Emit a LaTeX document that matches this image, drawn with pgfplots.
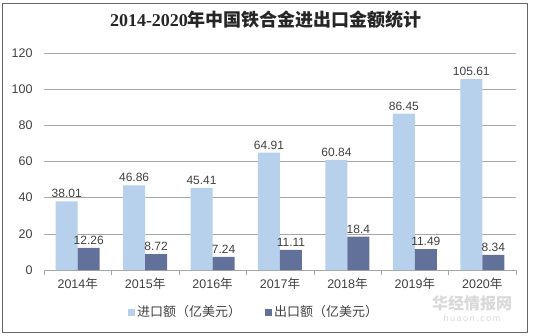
\documentclass[border=0pt]{standalone}
\usepackage{pgfplots}
\pgfplotsset{compat=1.18}
\usepackage{fontspec}
\setmainfont{Liberation Sans}
\newfontfamily\cjk{Noto Sans CJK SC}
\newfontfamily\serifnum{Liberation Serif}
\definecolor{impc}{HTML}{B7D0EC}
\definecolor{expc}{HTML}{627199}
\definecolor{txt}{HTML}{404040}
\definecolor{gridc}{HTML}{A6A6A6}
\begin{document}
\begin{tikzpicture}
\begin{axis}[
  at={(0,0)}, anchor=south west,
  scale only axis, width=472pt, height=217pt,
  ybar=0pt, bar width=22pt,
  xmin=-0.5, xmax=6.5, ymin=0, ymax=120,
  ytick={0,20,...,120},
  xtick={0,...,6},
  xticklabels={2014{\cjk 年},2015{\cjk 年},2016{\cjk 年},2017{\cjk 年},2018{\cjk 年},2019{\cjk 年},2020{\cjk 年}},
  minor xtick={-0.5,0.5,...,6.5},
  tick align=outside,
  major tick length=0pt, minor tick length=5pt,
  minor tick style={gridc},
  axis x line*=bottom, axis y line*=left,
  x axis line style={gridc,-},
  y axis line style={draw=none},
  ymajorgrids, grid style={gridc, line width=0.6pt},
  ticklabel style={font=\fontsize{12.5}{14}\selectfont, text=txt},
  yticklabel style={xshift=-8pt},
  xticklabel style={yshift=-4pt},
  /pgf/number format/assume math mode=true,
  nodes near coords,
  every node near coord/.append style={font=\fontsize{12}{14}\selectfont, text=txt, /pgf/number format/assume math mode=true, inner sep=3pt},
  legend style={at={(0.445,-0.194)}, anchor=center, draw=none, fill=none,
    font=\fontsize{13}{15}\selectfont\cjk, text=txt,
    /tikz/every even column/.append style={column sep=22pt},
    legend cell align=left},
  legend columns=2,
  legend image code/.code={\fill[#1,draw=none] (0pt,-3.5pt) rectangle (7pt,3.5pt);},
]
\addplot[fill=impc, draw=none] coordinates {(0,38.01) (1,46.86) (2,45.41) (3,64.91) (4,60.84) (5,86.45) (6,105.61)};
\addplot[fill=expc, draw=none] coordinates {(0,12.26) (1,8.72) (2,7.24) (3,11.11) (4,18.4) (5,11.49) (6,8.34)};
\legend{进口额（亿美元）,出口额（亿美元）}
\end{axis}
% title
\node[text={rgb,255:red,38;green,38;blue,38}, font=\fontsize{18}{21}\selectfont\bfseries] at (222pt,250pt) {{\serifnum\bfseries 2014-2020}{\cjk\bfseries 年中国铁合金进出口金额统计}};
% watermark
\node[text=gray!30, font=\fontsize{16}{18}\selectfont\cjk\bfseries] at (428pt,-33pt) {华经情报网};
\node[text=gray!30, font=\fontsize{9}{11}\selectfont] at (428pt,-48pt) {h\,u\,a\,o\,n\,.\,c\,o\,m};
% frame
\draw[gray!80!black, line width=0.8pt] (-42pt,267pt) rectangle (483pt,-62pt);
\pgfresetboundingbox
\path (-44pt,-65pt) rectangle (489pt,270pt);
\end{tikzpicture}
\end{document}
